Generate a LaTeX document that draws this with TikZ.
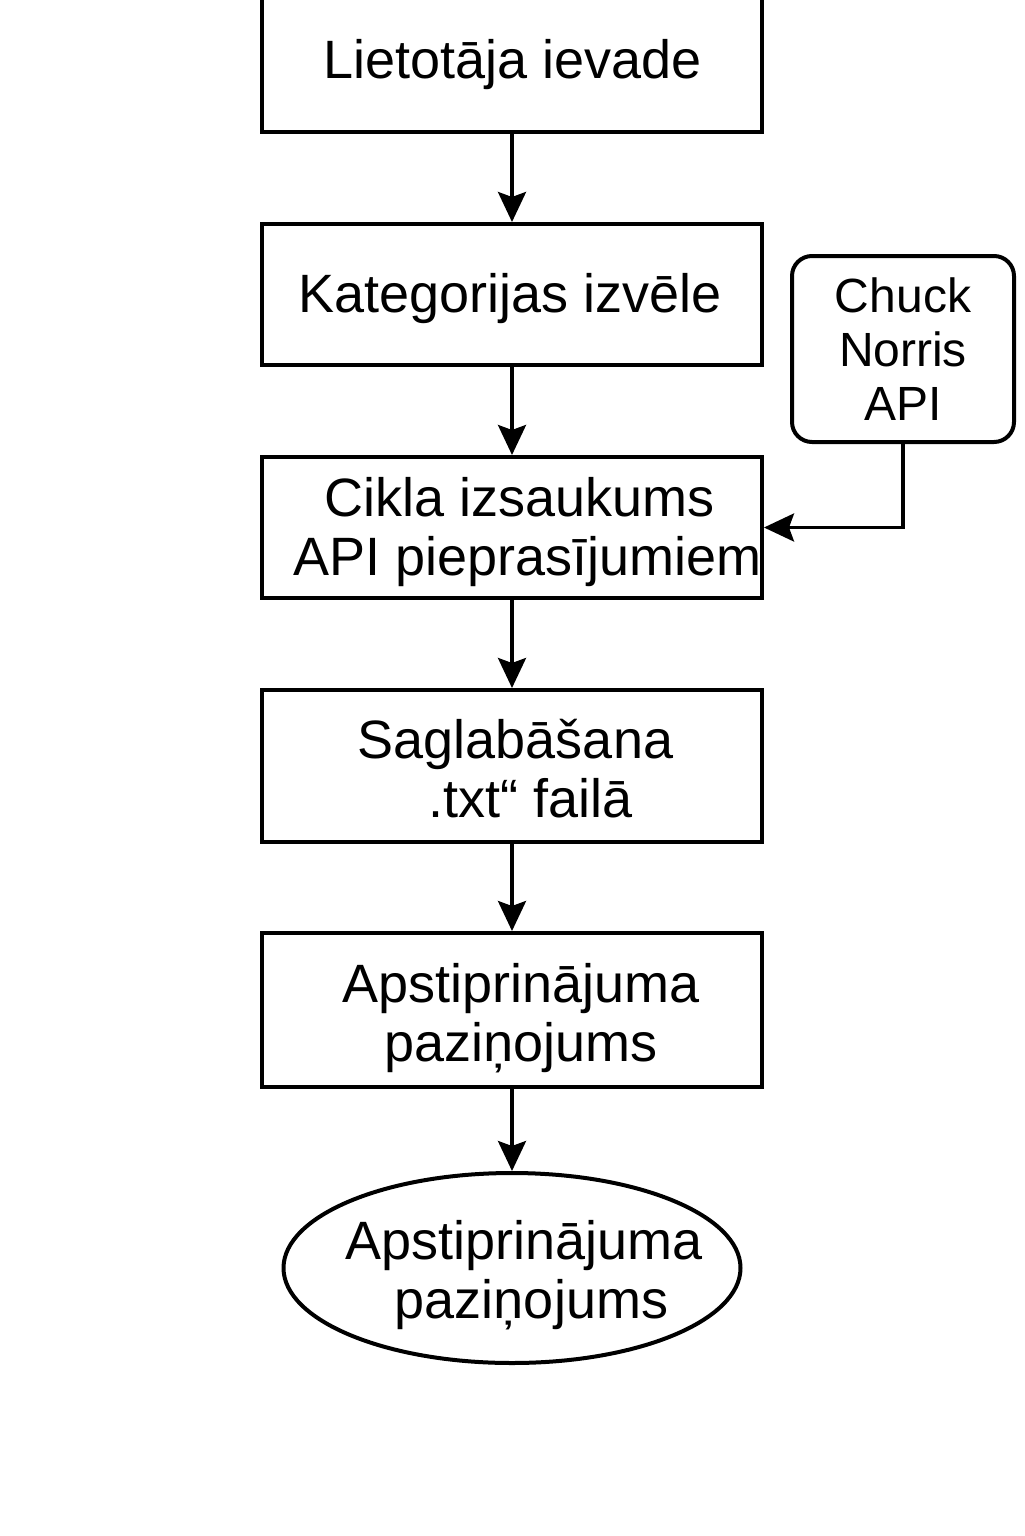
\documentclass[tikz,border=0pt]{standalone}
\usepackage{fontspec}
\setmainfont{Liberation Sans}
\usetikzlibrary{arrows.meta,shapes.geometric}
\tikzset{>={Stealth[length=15pt,width=14pt,inset=2.5pt]}}
\tikzset{
  stepbox/.style={draw, line width=2pt, minimum width=250pt, inner sep=0pt},
  txt/.style={align=center, inner sep=0pt, font=\fontsize{27}{29.5}\selectfont},
  apibox/.style={draw, line width=2pt, rounded corners=10pt, minimum width=111pt,
    minimum height=93pt, align=center, inner sep=0pt, font=\fontsize{24}{27}\selectfont},
  flow/.style={->, line width=1.75pt}
}

\begin{document}
\begin{tikzpicture}[x=0.5pt, y=-0.5pt]

		\useasboundingbox[fill=white] (0, 0) rectangle (1024, 1536);

		% Steps
		\node [stepbox, minimum height=72pt,
			label={[txt, xshift=0.5pt, yshift=-2.5pt]center:Lietotāja ievade}] (input) at (512, 60) {};
		\node [stepbox, minimum height=70.5pt,
			label={[txt, xshift=-1pt, yshift=-2pt]center:Kategorijas izvēle}] (category) at (512, 294.5) {};
		\node [stepbox, minimum height=70.5pt,
			label={[txt, xshift=4pt, yshift=-2.5pt]center:Cikla izsaukums\\ \ API pieprasījumiem}] (loop) at (512, 527.5) {};
		\node [stepbox, minimum height=76pt,
			label={[txt, xshift=1.75pt, yshift=-1.5pt]center:Saglabāšana\\ \ \ .txt“ failā}] (save) at (512, 766) {};
		\node [stepbox, minimum height=77pt,
			label={[txt, xshift=4.5pt, yshift=-4pt]center:Apstiprinājuma\\paziņojums}] (notice) at (512, 1010) {};

		% End
		\node [ellipse, draw, line width=2pt, minimum width=228.5pt, minimum height=95pt, inner sep=0pt,
			label={[txt, xshift=6pt, yshift=-3.5pt]center:Apstiprinājuma\\ \ paziņojums}] (end) at (512, 1268) {};

		% API
		\node [apibox] (api) at (903, 349) {Chuck\\Norris\\API};

		% Connections
		\draw [flow] (input) -- (category);
		\draw [flow] (category) -- (loop);
		\draw [flow] (loop) -- (save);
		\draw [flow] (save) -- (notice);
		\draw [flow] (notice) -- (end);
		\draw [flow] (api.south) |- (loop.east);

	\end{tikzpicture}
\end{document}
